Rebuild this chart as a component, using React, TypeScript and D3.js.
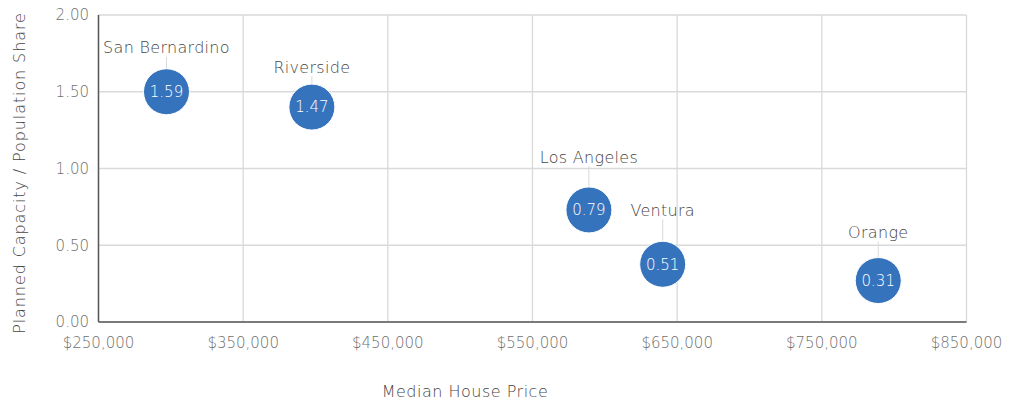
import React from "react";
import * as d3 from "d3";

const counties = ["San Bernardino", "Riverside", "Los Angeles", "Ventura", "Orange"];
const housePrice = [297000, 397500, 589000, 640000, 789000];
const capacityShare = [1.5, 1.4, 0.73, 0.376, 0.27];
const bubbleLabels = ["1.59", "1.47", "0.79", "0.51", "0.31"];
const xTicks = [250000, 350000, 450000, 550000, 650000, 750000, 850000];
const yTicks = [0, 0.5, 1.0, 1.5, 2.0];
// label offset above bubble center (in px), per county
const labelRise = [44, 40, 53, 54, 48];

const W = 1018;
const H = 400;
const FONT = "'DejaVu Sans', sans-serif";

export default function App() {
  const x = d3.scaleLinear().domain([250000, 850000]).range([98.5, 966.5]);
  const y = d3.scaleLinear().domain([0, 2]).range([322, 15]);
  const fmt = (v: number) => "$" + d3.format(",")(v);
  const r = 23;
  return (
    <svg width={W} height={H} style={{ position: "absolute", left: 0, top: 0, background: "#fff" }} fontFamily={FONT} fontWeight={300}>
      {/* grid */}
      {xTicks.map((t) => (
        <line key={"gx" + t} x1={x(t)} x2={x(t)} y1={y(2)} y2={y(0)} stroke="#d9d9d9" strokeWidth={1.3} />
      ))}
      {yTicks.map((t) => (
        <line key={"gy" + t} x1={x(250000)} x2={x(850000)} y1={y(t)} y2={y(t)} stroke="#d9d9d9" strokeWidth={1.3} />
      ))}
      {/* axes */}
      <line x1={x(250000)} x2={x(250000)} y1={y(2)} y2={y(0)} stroke="#595959" strokeWidth={1.5} />
      <line x1={x(250000)} x2={x(850000)} y1={y(0)} y2={y(0)} stroke="#595959" strokeWidth={1.5} />
      {/* tick labels */}
      {yTicks.map((t) => (
        <text key={"ty" + t} x={89} y={y(t)} dy="0.35em" textAnchor="end" fontSize={15} fill="#6f6f6f">
          {t.toFixed(2)}
        </text>
      ))}
      {xTicks.map((t) => (
        <text key={"tx" + t} x={x(t)} y={343} dy="0.35em" textAnchor="middle" fontSize={15} fill="#6f6f6f">
          {fmt(t)}
        </text>
      ))}
      {/* axis titles */}
      <text x={465} y={391} dy="0.35em" textAnchor="middle" fontSize={16} letterSpacing={0.5} fill="#454545">
        Median House Price
      </text>
      <text
        transform={`translate(19,173) rotate(-90)`}
        dy="0.35em"
        textAnchor="middle"
        fontSize={16}
        letterSpacing={0.9}
        fill="#454545"
      >
        Planned Capacity / Population Share
      </text>
      {/* bubbles */}
      {counties.map((c, i) => {
        const cx = x(housePrice[i]);
        const cy = y(capacityShare[i]);
        const ly = cy - labelRise[i];
        return (
          <g key={c}>
            <line x1={cx} x2={cx} y1={ly + 9} y2={cy - r} stroke="#d9d9d9" strokeWidth={1} />
            <circle cx={cx} cy={cy} r={r} fill="#3673bd" stroke="#ffffff" strokeWidth={1} />
            <text x={cx} y={cy} dy="0.35em" textAnchor="middle" fontSize={15} fill="#ffffff">
              {bubbleLabels[i]}
            </text>
            <text x={cx} y={ly} dy="0.35em" textAnchor="middle" fontSize={16} letterSpacing={0.3} fill="#454545">
              {c}
            </text>
          </g>
        );
      })}
    </svg>
  );
}
